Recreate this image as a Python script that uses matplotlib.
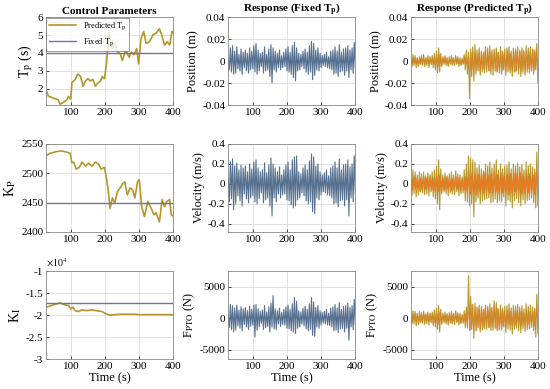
import numpy as np
import matplotlib
matplotlib.use("Agg")
import matplotlib.pyplot as plt

plt.rcParams['font.family'] = ['Liberation Serif', 'DejaVu Serif']
plt.rcParams['mathtext.fontset'] = 'stix'
plt.rcParams['axes.unicode_minus'] = False

# control parameters, read from the left column
tp_time = [27, 34, 48, 63, 68, 78, 88, 93, 100, 103, 113, 120, 128, 136, 143, 150, 157, 165,
           172, 180, 187, 192, 199, 205, 212, 217, 222, 229, 237, 245, 251, 261, 271, 278, 286,
           293, 299, 306, 314, 321, 331, 341, 350, 360, 367, 375, 383, 390, 397, 402]
tp_pred = [1.96, 1.6, 1.49, 1.39, 1.15, 1.24, 1.39, 1.58, 1.43, 2.34, 2.53, 2.82, 2.72, 2.15,
           2.44, 2.57, 2.44, 2.53, 2.15, 2.34, 2.44, 2.69, 2.57, 3.49, 5.2, 4.63, 4.25, 4.53,
           4.06, 3.96, 3.58, 4.15, 3.77, 4.06, 3.9, 4.25, 3.39, 4.82, 5.2, 4.53, 4.63, 5.0,
           5.1, 5.35, 5.0, 4.44, 4.63, 4.44, 5.2, 5.1]
tp_fixed = 4.0

kp_time = [27, 39, 58, 73, 88, 98, 103, 108, 116, 125, 133, 143, 152, 162, 172, 182, 189, 199,
           205, 209, 215, 222, 229, 237, 245, 251, 258, 266, 274, 281, 288, 296, 301, 308, 316,
           326, 336, 344, 350, 360, 368, 375, 382, 390, 395, 402]
kp_pred = [2530, 2534, 2537, 2538, 2536, 2534, 2518, 2519, 2507, 2510, 2519, 2512, 2517, 2512,
           2519, 2515, 2507, 2510, 2489, 2475, 2440, 2458, 2449, 2469, 2475, 2481, 2485, 2463,
           2475, 2472, 2458, 2486, 2489, 2443, 2426, 2452, 2440, 2429, 2433, 2417, 2455, 2443,
           2452, 2455, 2429, 2426]
kp_fixed = 2450

ki_time = [27, 48, 68, 83, 93, 100, 106, 113, 123, 133, 147, 162, 176, 191, 206, 216, 246,
           266, 286, 301, 336, 402]
ki_pred = [-1.82, -1.77, -1.72, -1.77, -1.78, -1.86, -1.82, -1.9, -1.92, -1.88, -1.9, -1.88,
           -1.9, -1.92, -1.98, -2.0, -1.98, -1.98, -1.98, -1.99, -1.99, -1.99]  # x 1e4
ki_fixed = -1.72

# responses (fixed Tp), position in mm, velocity in cm/s, force in 100 N
pos_fixed_mm = [3, -8, 12, -10, 14, -12, 9, -11, 13, -7,
                6, -9, 11, -12, 8, -6, 10, -9, 7, -11,
                12, -8, 9, -7, 14, -10, 16, -12, 10, -9,
                7, -5, 8, -11, 13, -9, 6, -8, 11, -14,
                15, -20, 12, -8, 9, -10, 7, -6, 10, -8,
                5, -6, 8, -5, 11, -9, 13, -10, 8, -12,
                14, -15, 17, -18, 12, -9, 7, -8, 6, -5,
                9, -7, 11, -10, 8, -12, 14, -10, 18, -17,
                16, -13, 10, -8, 12, -9, 7, -6, 5, -4,
                6, -5, 8, -6, 4, -7, 9, -8, 10, -12,
                13, -11, 9, -14, 15, -10, 8, -9, 11, -13,
                12, -9, 14, -15, 10, -8, 12, -11, 17, -6]
vel_fixed_cm = [5, -18, 22, -15, 25, -26, 18, -20, 21, -12,
                14, -17, 19, -22, 16, -10, 18, -15, 12, -19,
                20, -14, 15, -12, 22, -18, 24, -20, 16, -15,
                12, -9, 14, -19, 21, -16, 11, -14, 19, -22,
                26, -32, 20, -14, 16, -18, 12, -10, 17, -14,
                9, -11, 14, -10, 19, -16, 22, -17, 14, -21,
                24, -24, 27, -22, 28, -16, 12, -14, 10, -9,
                16, -12, 19, -17, 14, -20, 23, -18, 30, -28,
                27, -30, 18, -14, 20, -16, 12, -11, 9, -8,
                11, -9, 14, -11, 8, -12, 16, -14, 18, -20,
                22, -19, 16, -23, 25, -17, 14, -16, 19, -22,
                20, -16, 24, -32, 17, -14, 20, -18, 28, -10]
force_fixed_h = [5, -15, 22, -18, 20, -22, 16, -19, 21, -12,
                 13, -16, 18, -20, 15, -10, 17, -14, 12, -18,
                 19, -13, 14, -11, 21, -30, 22, -19, 15, -14,
                 11, -8, 13, -18, 20, -15, 10, -13, 18, -22,
                 24, -14, 36, -17, 15, -18, 12, -9, 16, -13,
                 9, -10, 14, -11, 18, -16, 21, -17, 14, -20,
                 23, -22, 33, -24, 27, -16, 12, -14, 10, -9,
                 16, -12, 19, -17, 14, -20, 23, -18, 33, -27,
                 26, -29, 17, -14, 20, -16, 12, -11, 9, -8,
                 11, -9, 14, -11, 8, -12, 16, -14, 18, -20,
                 22, -19, 16, -23, 25, -17, 14, -16, 19, -22,
                 20, -16, 24, -35, 17, -14, 20, -18, 30, -10]

# responses (predicted Tp): main trace and orange overlay
pos_pred_mm = [2, -5, 6, -4, 5, -6, 3, -5, 4, -3,
               5, -4, 6, -5, 3, -4, 5, -6, 4, -3,
               5, -6, 7, -8, 9, -11, 12, -10, 7, -5,
               4, -3, 5, -4, 3, -5, 4, -3, 5, -4,
               3, -4, 5, -3, 4, -5, 3, -4, 2, -3,
               6, -8, 10, -12, 8, -34, 11, -14, 13, -18,
               15, -12, 10, -9, 12, -13, 9, -10, 8, -11,
               13, -10, 12, -9, 14, -12, 10, -13, 11, -9,
               12, -10, 8, -11, 13, -12, 9, -8, 11, -13,
               12, -10, 13, -11, 9, -14, 12, -10, 11, -9,
               13, -12, 10, -14, 12, -11, 9, -13, 14, -10,
               12, -11, 13, -9, 11, -12, 10, -8, 16, -20]
pos_pred_or = [1, -3, 3, -2, 3, -3, 2, -3, 2, -2,
               3, -2, 3, -3, 2, -3, 4, -5, 6, -5,
               3, -2, 3, -3, 2, -3, 3, -2, 3, -2,
               2, -3, 3, -2, 3, -4, 5, -9, 8, -10,
               9, -8, 7, -9, 8, -7, 9, -8, 6, -9,
               8, -7, 9, -10, 8, -7, 9, -8, 7, -9,
               10, -8, 7, -9, 8, -10, 9, -7, 8, -9,
               10, -8, 9, -7, 8, -9, 10, -8, 12, -10]
vel_pred_cm = [5, -12, 14, -10, 12, -13, 9, -11, 12, -8,
               10, -9, 12, -11, 8, -10, 11, -12, 9, -8,
               12, -13, 14, -15, 18, -20, 24, -26, 15, -10,
               9, -8, 11, -10, 8, -12, 10, -9, 12, -10,
               9, -11, 13, -8, 10, -12, 9, -10, 7, -9,
               14, -17, 20, -18, 28, -22, 26, -20, 24, -33,
               22, -18, 16, -14, 19, -20, 15, -17, 13, -16,
               20, -15, 18, -14, 22, -19, 16, -18, 20, -15,
               24, -19, 14, -17, 20, -18, 15, -13, 18, -22,
               19, -16, 22, -18, 15, -24, 20, -17, 18, -15,
               21, -19, 17, -22, 19, -16, 14, -20, 22, -17,
               18, -16, 20, -14, 17, -19, 15, -24, 32, -22]
vel_pred_or = [3, -6, 7, -5, 6, -7, 5, -6, 7, -5,
               6, -5, 7, -6, 5, -7, 8, -8, 9, -7,
               5, -6, 7, -5, 6, -7, 5, -6, 7, -5,
               6, -7, 5, -6, 7, -8, 9, -10, 11, -9,
               10, -11, 9, -8, 10, -9, 11, -10, 8, -9,
               10, -9, 11, -8, 9, -10, 11, -9, 8, -10,
               9, -11, 10, -9, 11, -8, 10, -9, 11, -10,
               9, -10, 11, -9, 10, -8, 9, -10, 12, -11]
force_pred_h = [3, -10, 12, -9, 11, -12, 8, -10, 11, -7,
                9, -8, 11, -10, 7, -9, 10, -11, 8, -7,
                10, -12, 13, -14, 16, -18, 20, -22, 14, -10,
                8, -7, 10, -9, 7, -11, 9, -8, 11, -9,
                8, -10, 12, -7, 9, -11, 8, -9, 6, -8,
                12, -15, 18, -16, 68, -20, 35, -18, 22, -32,
                24, -20, 18, -15, 21, -22, 17, -19, 14, -17,
                21, -16, 19, -15, 23, -20, 17, -19, 28, -16,
                25, -20, 15, -18, 21, -19, 16, -14, 19, -23,
                20, -17, 23, -19, 16, -25, 21, -18, 19, -16,
                22, -20, 18, -23, 20, -17, 15, -21, 23, -18,
                19, -17, 21, -15, 18, -20, 16, -30, 38, -24]
force_pred_or = [3, -6, 7, -5, 6, -7, 5, -6, 7, -4,
                 6, -5, 7, -6, 5, -7, 8, -9, 10, -7,
                 5, -6, 7, -5, 6, -7, 5, -6, 7, -5,
                 6, -7, 5, -6, 7, -8, 12, -18, 22, -16,
                 18, -20, 15, -17, 19, -14, 16, -18, 13, -15,
                 17, -14, 20, -18, 16, -19, 14, -12, 11, -13,
                 12, -10, 11, -12, 10, -11, 12, -10, 11, -12,
                 10, -11, 12, -10, 11, -9, 10, -12, 14, -13]

olive = '#B4962A'
fixed_col = '#6B74A8'
blue = '#56708F'
orange = '#EE7722'

fig = plt.figure(figsize=(5.5, 3.89), dpi=100)
col_x = [0.0836, 0.415, 0.747]
row_y = [0.730, 0.404, 0.077]
w, h = 0.231, 0.226

axes = [[fig.add_axes([cx, ry, w, h]) for cx in col_x] for ry in row_y]

def style(ax, xlim):
    ax.set_xlim(*xlim)
    ax.set_xticks([100, 200, 300, 400])
    ax.grid(True, color='#DDDDDD', linewidth=0.6)
    ax.tick_params(direction='in', labelsize=8, length=2.5, width=0.5, pad=2)
    for s in ax.spines.values():
        s.set_color('#888888')
        s.set_linewidth(0.6)

# left column
ax = axes[0][0]
ax.plot(tp_time, tp_pred, color=olive, lw=1.2, label='Predicted T$_\\mathrm{p}$')
ax.axhline(tp_fixed, color=fixed_col, lw=1.0, label='Fixed T$_\\mathrm{p}$')
style(ax, (27, 400))
ax.set_ylim(1.1, 6)
ax.set_yticks([2, 3, 4, 5, 6])
ax.set_ylabel('T$_\\mathrm{p}$ (s)', fontsize=10, labelpad=2)
ax.set_title('Control Parameters', fontsize=8, fontweight='bold', pad=2)
leg = ax.legend(loc='upper left', fontsize=6, frameon=True, fancybox=False,
                borderpad=0.35, handlelength=3.2, labelspacing=0.5, borderaxespad=0.05)
leg.get_frame().set_edgecolor('#555555')
leg.get_frame().set_linewidth(0.5)

ax = axes[1][0]
ax.plot(kp_time, kp_pred, color=olive, lw=1.2)
ax.axhline(kp_fixed, color=fixed_col, lw=1.0)
style(ax, (27, 400))
ax.set_ylim(2400, 2550)
ax.set_yticks([2400, 2450, 2500, 2550])
ax.set_ylabel('K$_\\mathrm{P}$', fontsize=10, labelpad=2)

ax = axes[2][0]
ax.plot(ki_time, ki_pred, color=olive, lw=1.2)
ax.axhline(ki_fixed, color=fixed_col, lw=1.0)
style(ax, (27, 400))
ax.set_ylim(-3, -1)
ax.set_yticks([-3, -2.5, -2, -1.5, -1])
ax.set_yticklabels(['-3', '-2.5', '-2', '-1.5', '-1'])
ax.set_ylabel('K$_\\mathrm{I}$', fontsize=10, labelpad=2)
ax.text(0.0, 1.02, '$\\times10^4$', transform=ax.transAxes, fontsize=7, va='bottom')
ax.set_xlabel('Time (s)', fontsize=9, labelpad=1)

# middle column: fixed Tp
t_fix = np.linspace(28, 400, len(pos_fixed_mm))
ax = axes[0][1]
ax.plot(t_fix, np.array(pos_fixed_mm) / 1000, color=blue, lw=0.8)
style(ax, (28, 400))
ax.set_ylim(-0.04, 0.04)
ax.set_yticks([-0.04, -0.02, 0, 0.02, 0.04])
ax.set_yticklabels(['-0.04', '-0.02', '0', '0.02', '0.04'])
ax.set_ylabel('Position (m)', fontsize=9, labelpad=2)
ax.set_title('Response (Fixed T$_\\mathbf{p}$)', fontsize=8, fontweight='bold', pad=2)

ax = axes[1][1]
ax.plot(t_fix, np.array(vel_fixed_cm) / 100, color=blue, lw=0.8)
style(ax, (28, 400))
ax.set_ylim(-0.48, 0.4)
ax.set_yticks([-0.4, -0.2, 0, 0.2, 0.4])
ax.set_yticklabels(['-0.4', '-0.2', '0', '0.2', '0.4'])
ax.set_ylabel('Velocity (m/s)', fontsize=9, labelpad=2)

ax = axes[2][1]
ax.plot(t_fix, np.array(force_fixed_h) * 100, color=blue, lw=0.8)
style(ax, (28, 400))
ax.set_ylim(-6500, 7500)
ax.set_yticks([-5000, 0, 5000])
ax.set_ylabel('F$_\\mathrm{PTO}$ (N)', fontsize=9, labelpad=2)
ax.set_xlabel('Time (s)', fontsize=9, labelpad=1)

# right column: predicted Tp
t_pred = np.linspace(26, 400, len(pos_pred_mm))
t_or = np.linspace(26, 400, len(pos_pred_or))
ax = axes[0][2]
ax.plot(t_pred, np.array(pos_pred_mm) / 1000, color=olive, lw=0.8)
ax.plot(t_or, np.array(pos_pred_or) / 1000, color=orange, lw=0.7, alpha=0.7)
style(ax, (26, 400))
ax.set_ylim(-0.04, 0.04)
ax.set_yticks([-0.04, -0.02, 0, 0.02, 0.04])
ax.set_yticklabels(['-0.04', '-0.02', '0', '0.02', '0.04'])
ax.set_ylabel('Position (m)', fontsize=9, labelpad=2)
ax.set_title('Response (Predicted T$_\\mathbf{p}$)', fontsize=8, fontweight='bold', pad=2)

ax = axes[1][2]
ax.plot(t_pred, np.array(vel_pred_cm) / 100, color=olive, lw=0.8)
ax.plot(t_or, np.array(vel_pred_or) / 100, color=orange, lw=0.9)
style(ax, (26, 400))
ax.set_ylim(-0.48, 0.4)
ax.set_yticks([-0.4, -0.2, 0, 0.2, 0.4])
ax.set_yticklabels(['-0.4', '-0.2', '0', '0.2', '0.4'])
ax.set_ylabel('Velocity (m/s)', fontsize=9, labelpad=2)

ax = axes[2][2]
ax.plot(t_pred, np.array(force_pred_h) * 100, color=olive, lw=0.8)
ax.plot(t_or, np.array(force_pred_or) * 100, color=orange, lw=0.7, alpha=0.7)
style(ax, (26, 400))
ax.set_ylim(-6500, 7500)
ax.set_yticks([-5000, 0, 5000])
ax.set_ylabel('F$_\\mathrm{PTO}$ (N)', fontsize=9, labelpad=2)
ax.set_xlabel('Time (s)', fontsize=9, labelpad=1)

fig.savefig('out.png', dpi=100)
